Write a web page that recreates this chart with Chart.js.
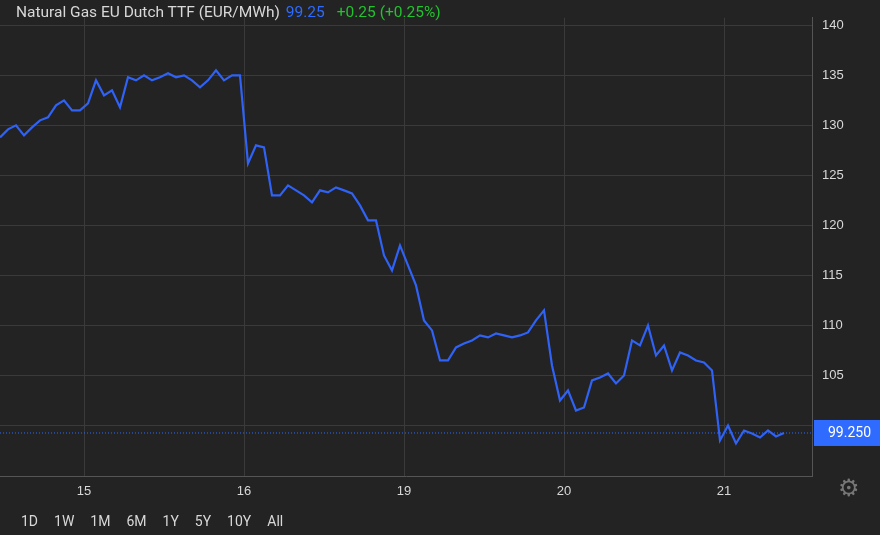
<!DOCTYPE html>
<html>
<head>
<meta charset="utf-8">
<script src="https://cdn.jsdelivr.net/npm/chart.js@4/dist/chart.umd.min.js"></script>
<style>
  html, body { margin: 0; padding: 0; background: #232323; }
  #wrap { position: relative; width: 880px; height: 535px; font-family: Roboto, "Liberation Sans", Arial, sans-serif; }
  #title { position: absolute; left: 16px; top: 3px; font-size: 15.5px; color: #d8d8d8; }
  #title .last { color: #2f6bff; margin-left: 2px; }
  #title .chg { color: #22c32e; margin-left: 12px; }
  #ranges { position: absolute; left: 21px; top: 513px; font-size: 14px; color: #d8d8d8; }
  #ranges span { margin-right: 16px; }
  #gear { position: absolute; left: 838px; top: 474px; font-size: 24px; color: #777; }
</style>
</head>
<body>
<div id="wrap">
  <canvas id="gasChart" width="880" height="535"></canvas>
  <div id="title">Natural Gas EU Dutch TTF (EUR/MWh) <span class="last">99.25</span><span class="chg">+0.25 (+0.25%)</span></div>
  <div id="ranges"><span>1D</span><span>1W</span><span>1M</span><span>6M</span><span>1Y</span><span>5Y</span><span>10Y</span><span>All</span></div>
  <div id="gear">⚙</div>
</div>
<script>
// prices sampled at regular steps
const prices = [
  128.8, 129.6, 130, 129, 129.8, 130.5, 130.8, 132, 132.5, 131.5,
  131.5, 132.2, 134.5, 133, 133.5, 131.8, 134.8, 134.5, 135, 134.5,
  134.8, 135.2, 134.8, 135, 134.5, 133.8, 134.5, 135.5, 134.5, 135,
  135, 126.2, 128, 127.8, 123, 123, 124, 123.5, 123, 122.3,
  123.5, 123.3, 123.8, 123.5, 123.2, 122, 120.5, 120.5, 117, 115.5,
  118, 116, 114, 110.5, 109.5, 106.5, 106.5, 107.8, 108.2, 108.5,
  109, 108.8, 109.2, 109, 108.8, 109, 109.3, 110.5, 111.5, 106,
  102.5, 103.5, 101.5, 101.8, 104.5, 104.8, 105.2, 104.2, 105, 108.5,
  108, 110, 107, 108, 105.5, 107.3, 107, 106.5, 106.3, 105.5,
  98.5, 100, 98.2, 99.5, 99.2, 98.8, 99.5, 98.9, 99.25
];
const dayLabels = ['15', '16', '19', '20', '21'];
const dayIndex = [10.5, 30.5, 50.5, 70.5, 90.5];
const yTicks = [100, 105, 110, 115, 120, 125, 130, 135, 140];
const lastPrice = 99.25;

const points = prices.map((v, i) => ({ x: i, y: v }));

const priceLine = {
  id: 'priceLine',
  afterDatasetsDraw(chart) {
    const { ctx, chartArea, scales } = chart;
    const y = scales.y.getPixelForValue(lastPrice);
    ctx.save();
    ctx.strokeStyle = '#2f6bff';
    ctx.lineWidth = 1;
    ctx.setLineDash([1, 2]);
    ctx.beginPath();
    ctx.moveTo(chartArea.left, y);
    ctx.lineTo(chartArea.right, y);
    ctx.stroke();
    ctx.setLineDash([]);
    ctx.fillStyle = '#2f6bff';
    ctx.fillRect(chartArea.right + 2, y - 13, 880 - chartArea.right, 26);
    ctx.fillStyle = '#ffffff';
    ctx.font = '14px Roboto, "Liberation Sans", sans-serif';
    ctx.textBaseline = 'middle';
    ctx.fillText(lastPrice.toFixed(3), chartArea.right + 16, y + 1);
    ctx.restore();
  }
};

new Chart(document.getElementById('gasChart'), {
  type: 'line',
  data: {
    datasets: [{
      data: points,
      borderColor: '#2f62f5',
      borderWidth: 2.2,
      pointRadius: 0,
      tension: 0,
      fill: false
    }]
  },
  options: {
    responsive: false,
    animation: false,
    layout: { padding: { top: 0, left: 0, right: 0, bottom: 29 } },
    plugins: { legend: { display: false }, tooltip: { enabled: false } },
    scales: {
      x: {
        type: 'linear',
        min: 0,
        max: 101.5,
        afterBuildTicks: s => { s.ticks = dayIndex.map(v => ({ value: v })); },
        afterFit: s => { s.height = 30; },
        ticks: {
          color: '#d8d8d8',
          font: { size: 13 },
          autoSkip: false,
          maxRotation: 0,
          padding: 8,
          callback: (v) => dayLabels[dayIndex.indexOf(v)]
        },
        grid: { color: '#3a3a3a', drawTicks: false },
        border: { color: '#555555' }
      },
      y: {
        position: 'right',
        min: 94.95,
        max: 140.75,
        afterBuildTicks: s => { s.ticks = yTicks.map(v => ({ value: v })); },
        afterFit: s => { s.width = 68; },
        ticks: { color: '#d8d8d8', font: { size: 13 }, padding: 10 },
        grid: { color: '#3a3a3a', drawTicks: false },
        border: { color: '#555555' }
      }
    }
  },
  plugins: [priceLine]
});
</script>
</body>
</html>
